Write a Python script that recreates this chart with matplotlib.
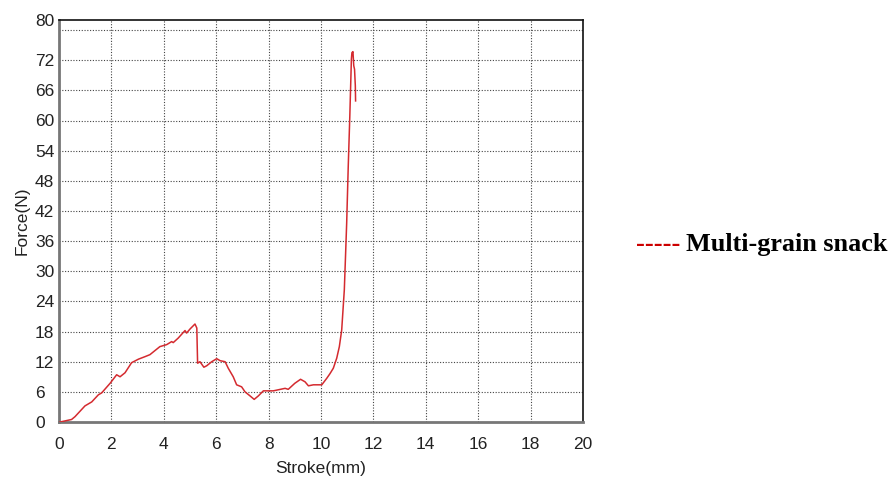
import matplotlib
matplotlib.use("Agg")
import matplotlib.pyplot as plt
import numpy as np

stroke_mm = [0.04, 0.48, 0.61, 0.99, 1.25, 1.5, 1.63, 1.95, 2.2, 2.33, 2.52, 2.77, 3.03, 3.28, 3.47,
             3.85, 4.11, 4.3, 4.36, 4.55, 4.81, 4.87, 5.0, 5.19, 5.26, 5.29, 5.38, 5.53, 5.64, 5.83,
             6.02, 6.15, 6.34, 6.46, 6.65, 6.78, 6.97, 7.1, 7.29, 7.45, 7.61, 7.8, 8.18, 8.63, 8.75,
             9.0, 9.22, 9.39, 9.52, 9.71, 10.03, 10.22, 10.34, 10.47, 10.6, 10.7, 10.79, 10.89, 10.94,
             10.98, 11.04, 11.1, 11.16, 11.18, 11.22, 11.25, 11.28, 11.31, 11.32]
force_n = [0.0, 0.5, 1.06, 3.2, 4.0, 5.4, 5.8, 7.7, 9.4, 9.0, 9.8, 11.8, 12.5, 13.0, 13.4,
           15.0, 15.4, 16.0, 15.8, 16.7, 18.2, 17.7, 18.5, 19.5, 18.7, 11.7, 12.0, 10.9, 11.2, 12.0,
           12.6, 12.2, 12.0, 10.7, 9.0, 7.4, 7.0, 6.0, 5.2, 4.5, 5.2, 6.2, 6.2, 6.7, 6.5,
           7.7, 8.5, 8.0, 7.2, 7.4, 7.4, 8.7, 9.6, 10.7, 12.7, 15.0, 18.3, 26.3, 33.6,
           39.6, 50.9, 60.9, 72.2, 73.5, 73.7, 70.9, 70.2, 66.9, 63.9]

x_ticks = [0, 2, 4, 6, 8, 10, 12, 14, 16, 18, 20]
y_ticks = [0, 6, 12, 18, 24, 30, 36, 42, 48, 54, 60, 66, 72, 80]
y_grid = [6, 12, 18, 24, 30, 36, 42, 48, 54, 60, 66, 72, 78]
x_grid = [2, 4, 6, 8, 10, 12, 14, 16, 18]
series_name = "Multi-grain snack"

plt.rcParams['font.family'] = ['Liberation Sans', 'DejaVu Sans']

fig = plt.figure(figsize=(8.94, 4.79), dpi=100)
ax = fig.add_axes([59/894, 1-422/479, (583-59)/894, (422-20)/479])

for g in y_grid:
    ax.axhline(g, color='#444444', linestyle=(0, (1, 1.5)), linewidth=0.8, zorder=0)
for g in x_grid:
    ax.axvline(g, color='#444444', linestyle=(0, (1, 1.5)), linewidth=0.8, zorder=0)

ax.plot(stroke_mm, force_n, color='#d42a2f', linewidth=1.1, zorder=3)

ax.set_xlim(0, 20)
ax.set_ylim(0, 80)
ax.set_xticks(x_ticks)
ax.set_yticks(y_ticks)
ax.tick_params(axis='x', length=0, labelsize=12.5, pad=11, colors='#222222')
ax.tick_params(axis='y', length=0, labelsize=12.5, pad=17.3, colors='#222222')
for lbl in ax.get_yticklabels():
    lbl.set_horizontalalignment('left')
for s in ['top', 'right']:
    ax.spines[s].set_color('#111111')
    ax.spines[s].set_linewidth(1.2)
for s in ['left', 'bottom']:
    ax.spines[s].set_color('#777777')
    ax.spines[s].set_linewidth(2.0)

ax.set_xlabel("Stroke(mm)", fontsize=12.5, labelpad=6, color='#222222')
ax.yaxis.set_label_coords(-(59-22)/524, 0.5)
ax.set_ylabel("Force(N)", fontsize=12.5, color='#222222', va='center')

fig.text(636/894, 1-245/479, "-----", color='#cc0000', fontsize=19, fontweight='bold',
         family='Liberation Serif', va='center', ha='left')
fig.text(686/894, 1-245/479, series_name, color='black', fontsize=18.8, fontweight='bold',
         family='Liberation Serif', va='center', ha='left')

fig.savefig("out.png", dpi=100)
